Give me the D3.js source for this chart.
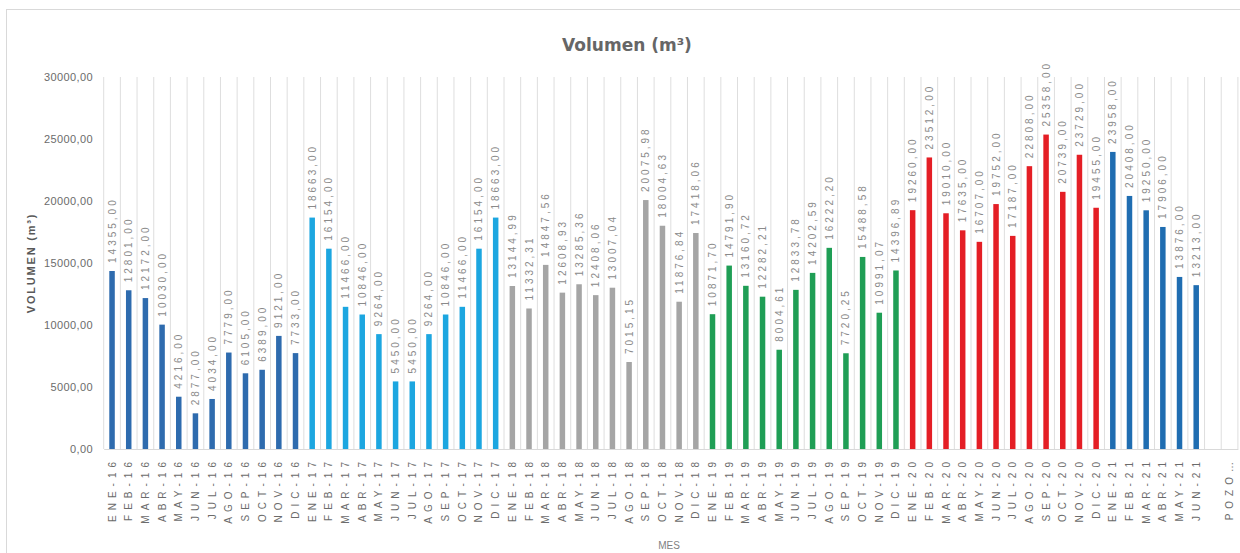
<!DOCTYPE html>
<html><head><meta charset="utf-8">
<script src="https://cdn.jsdelivr.net/npm/d3@7"></script>
<style>body{margin:0;background:#fff;}svg{display:block;}</style>
</head><body>
<svg id="c" width="1240" height="553"></svg>
<script>
const months = ["ENE","FEB","MAR","ABR","MAY","JUN","JUL","AGO","SEP","OCT","NOV","DIC"];
const years = ["16","17","18","19","20","21"];
const categories = [];
years.forEach(y => months.forEach(m => { if (!(y === "21" && months.indexOf(m) > 5)) categories.push(m + "-" + y); }));
categories.push(" ");
categories.push("POZO…");

const v2016 = [14355,12801,12172,10030,4216,2877,4034,7779,6105,6389,9121,7733];
const v2017 = [18663,16154,11466,10846,9264,5450,5450,9264,10846,11466,16154,18663];
const v2018 = [13144.99,11332.31,14847.56,12608.93,13285.36,12408.06,13007.04,7015.15,20075.98,18004.63,11876.84,17418.06];
const v2019 = [10871.70,14791.90,13160.72,12282.21,8004.61,12833.78,14202.59,16222.20,7720.25,15488.58,10991.07,14396.89];
const v2020 = [19260,23512,19010,17635,16707,19752,17187,22808,25358,20739,23729,19455];
const v2021 = [23958,20408,19250,17906,13876,13213];
const yearColors = ["#2e6bae","#1ca6e0","#a5a5a5","#1f9e55","#e41e25","#1f6db1"];
const yTicks = [0,5000,10000,15000,20000,25000,30000];

const series = [v2016,v2017,v2018,v2019,v2020,v2021];
const data = [];
series.forEach((arr,i) => arr.forEach((v,j) => data.push({cat: categories[data.length], value: v, color: yearColors[i]})));

const svg = d3.select("#c");
// frame
svg.append("rect").attr("x",6.5).attr("y",9.5).attr("width",1250).attr("height",560)
  .attr("fill","none").attr("stroke","#d9d9d9");

const x = d3.scaleBand().domain(categories).range([103.7, 1237.9]).padding(0);
const y = d3.scaleLinear().domain([0,30000]).range([449,77]);
const fmt = v => v.toFixed(2).replace(".", ",");

// vertical gridlines
const g = svg.append("g");
const bounds = categories.map(c => x(c)).concat([x.range()[1]]);
g.selectAll("line.grid").data(bounds).join("line")
  .attr("x1",d=>d).attr("x2",d=>d).attr("y1",y(30000)).attr("y2",y(0))
  .attr("stroke","#dedede").attr("stroke-width",1);

// y axis labels
const yAxis = d3.axisLeft(y).tickValues(yTicks).tickFormat(fmt).tickSize(0).tickPadding(0);
const ya = svg.append("g").attr("transform","translate(93,0)").call(yAxis);
ya.select(".domain").remove();
ya.selectAll("text").attr("font-family","Liberation Sans, Arial, sans-serif").attr("font-size",11)
  .attr("fill","#6b6b6b").attr("letter-spacing","0.4px");

// x axis
const xAxis = d3.axisBottom(x).tickSize(0).tickPadding(0);
const xa = svg.append("g").attr("transform","translate(0,449)").call(xAxis);
xa.select(".domain").attr("stroke","#d9d9d9");
xa.selectAll("text")
  .attr("font-family","Liberation Sans, Arial, sans-serif").attr("font-size",10)
  .attr("fill","#6b6b6b").attr("letter-spacing","5px")
  .attr("text-anchor","end").attr("dy","0.35em")
  .attr("transform","translate(0,8) rotate(-90)");

// bars
const bw = 5.5;
svg.append("g").selectAll("rect").data(data).join("rect")
  .attr("x", d => x(d.cat) + x.bandwidth()/2 - bw/2)
  .attr("y", d => y(d.value))
  .attr("width", bw)
  .attr("height", d => y(0) - y(d.value))
  .attr("fill", d => d.color);

// data labels
svg.append("g").selectAll("text").data(data).join("text")
  .attr("transform", d => `translate(${x(d.cat) + x.bandwidth()/2},${y(d.value) - 8}) rotate(-90)`)
  .attr("dy","0.35em")
  .attr("font-family","Liberation Sans, Arial, sans-serif").attr("font-size",10)
  .attr("letter-spacing","3px")
  .attr("fill","#8a8a8a")
  .text(d => fmt(d.value));

// title
svg.append("text").attr("x",627).attr("y",51).attr("text-anchor","middle")
  .attr("font-family","DejaVu Sans, sans-serif").attr("font-weight","bold").attr("font-size",17)
  .attr("fill","#666666").text("Volumen (m³)");

// y axis title
svg.append("text").attr("transform","translate(35,263) rotate(-90)").attr("text-anchor","middle")
  .attr("font-family","Liberation Sans, Arial, sans-serif").attr("font-weight","bold").attr("font-size",11)
  .attr("letter-spacing","1.8px").attr("fill","#595959").text("VOLUMEN (m³)");

// x axis title
svg.append("text").attr("x",669).attr("y",549).attr("text-anchor","middle")
  .attr("font-family","Liberation Sans, Arial, sans-serif").attr("font-size",10)
  .attr("fill","#7f7f7f").text("MES");
</script>
</body></html>
